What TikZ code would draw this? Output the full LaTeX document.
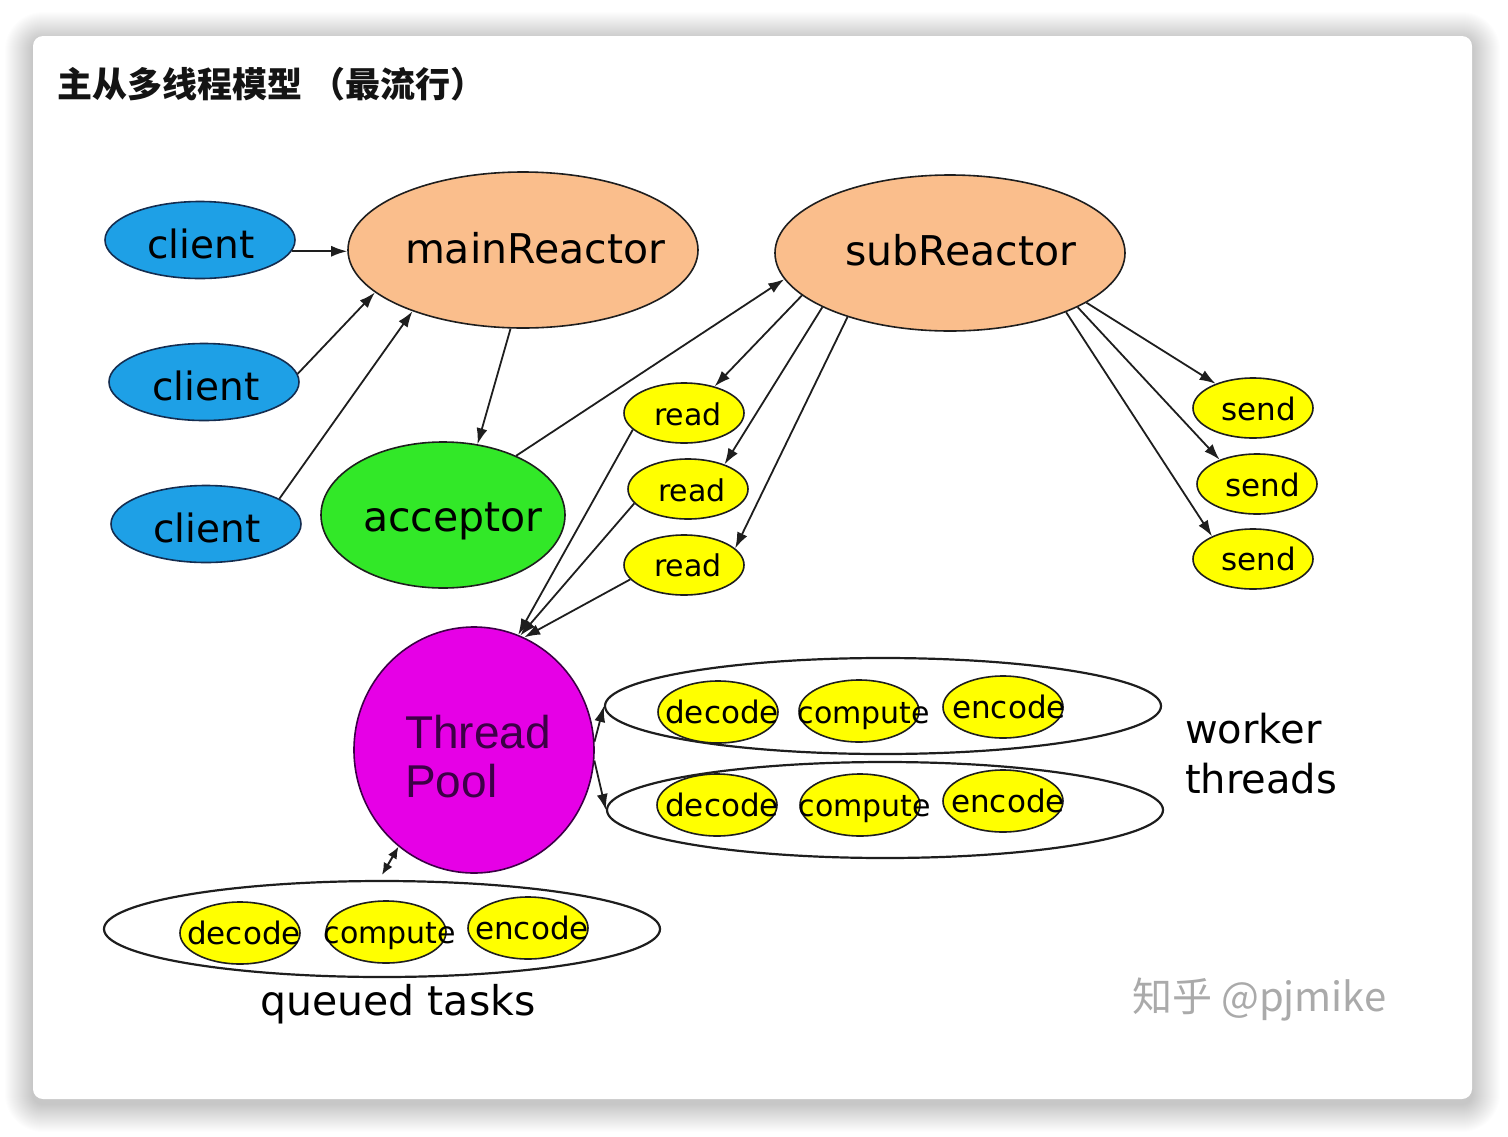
\documentclass[tikz,border=0pt]{standalone}
\usepackage{fontspec}
\setmainfont{DejaVu Sans}
\newfontfamily\cjk{Noto Sans CJK SC}
\newfontfamily\arialf{Liberation Sans}
\usetikzlibrary{shapes.geometric,arrows.meta}
\definecolor{cblue}{RGB}{30,160,230}
\definecolor{cblueD}{RGB}{20,45,80}
\definecolor{cpeach}{RGB}{250,190,140}
\definecolor{cgreen}{RGB}{50,232,40}
\definecolor{cyel}{RGB}{255,255,0}
\definecolor{cmag}{RGB}{230,0,230}
\definecolor{ctp}{RGB}{60,0,70}
\definecolor{cline}{RGB}{30,30,30}
\definecolor{cwm}{RGB}{170,170,170}
\newcommand\fsz[1]{\fontsize{#1}{#1}\selectfont}
\tikzset{
  nodebase/.style={ellipse, draw=cline, line width=1.6pt, inner sep=0pt},
  clientn/.style={nodebase, fill=cblue, draw=cblueD, minimum width=190pt, minimum height=77pt},
  reactor/.style={nodebase, fill=cpeach, minimum width=350pt, minimum height=156pt},
  smally/.style={nodebase, fill=cyel, minimum width=120pt, minimum height=60pt},
  tasky/.style={nodebase, fill=cyel, minimum width=120pt, minimum height=62pt},
  grp/.style={ellipse, draw=cline, line width=2.2pt, inner sep=0pt, minimum width=556pt, minimum height=96pt},
  arr/.style={draw=cline, line width=1.8pt, -{Latex[length=16pt,width=11pt]}},
  lbl/.style={inner sep=0pt, anchor=base, text=black},
}
\begin{document}
\begin{tikzpicture}[x=1pt,y=-1pt]
\useasboundingbox (0,0) rectangle (1508,1136);
\fill[white] (0,0) rectangle (1508,1136);
% shadow
\foreach \i in {1,...,28}{
  \fill[black, opacity=0.008, rounded corners=10pt+\i pt] (33-\i,40-\i) rectangle (1472+\i,1104+\i);
}
\fill[white, rounded corners=10pt] (33,36) rectangle (1472,1099);

% title
\node[anchor=base west, inner sep=0pt, font=\cjk\bfseries\fsz{35}, text=black!92] (title) at (57,97) {主从多线程模型 （最流行）};

% groups
\node[grp] (w1) at (883,706) {};
\node[grp] (w2) at (885,810) {};
\node[grp] (q) at (382,929) {};

% nodes
\node[clientn] (c1) at (200,240) {};
\node[clientn] (c2) at (204,382) {};
\node[clientn] (c3) at (206,524) {};
\node[reactor] (main) at (523,250) {};
\node[reactor] (sub) at (950,253) {};
\node[nodebase, fill=cgreen, minimum width=244pt, minimum height=146pt] (acc) at (443,515) {};
\node[smally] (r1) at (684,413) {};
\node[smally] (r2) at (688,489) {};
\node[smally] (r3) at (684,565) {};
\node[smally] (s1) at (1253,408) {};
\node[smally] (s2) at (1257,484) {};
\node[smally] (s3) at (1253,559) {};
\node[nodebase, fill=cmag, draw=ctp, minimum width=240pt, minimum height=246pt] (tp) at (474,750) {};

\node[tasky] (w1d) at (718,712) {};
\node[tasky] (w1c) at (859,711) {};
\node[tasky] (w1e) at (1003,707) {};
\node[tasky] (w2d) at (717,805) {};
\node[tasky] (w2c) at (860,805) {};
\node[tasky] (w2e) at (1003,801) {};
\node[tasky] (qd) at (240,933) {};
\node[tasky] (qc) at (386,932) {};
\node[tasky] (qe) at (528,928) {};

% texts
\node[lbl, font=\fsz{39}] (tc1) at (201,258) {client};
\node[lbl, font=\fsz{39}] (tc2) at (206,400) {client};
\node[lbl, font=\fsz{39}] (tc3) at (207,542) {client};
\node[lbl, font=\fsz{41}] (tmain) at (535,263) {mainReactor};
\node[lbl, font=\fsz{41}] (tsub) at (961,265) {subReactor};
\node[lbl, font=\fsz{41}] (tacc) at (453,531) {acceptor};
\node[lbl, font=\fsz{30}] (tr1) at (688,425) {read};
\node[lbl, font=\fsz{30}] (tr2) at (692,501) {read};
\node[lbl, font=\fsz{30}] (tr3) at (688,576) {read};
\node[lbl, font=\fsz{31}] (ts1) at (1259,420) {send};
\node[lbl, font=\fsz{31}] (ts2) at (1263,496) {send};
\node[lbl, font=\fsz{31}] (ts3) at (1259,570) {send};
\node[lbl, anchor=base west, font=\arialf\fsz{46}, text=ctp] (ttp1) at (405,748) {Thread};
\node[lbl, anchor=base west, font=\arialf\fsz{46}, text=ctp] (ttp2) at (405,797) {Pool};

\node[lbl, font=\fsz{31}] (tw1d) at (722,723) {decode};
\node[lbl, font=\fsz{30}] (tw1c) at (864,723) {compute};
\node[lbl, font=\fsz{31}] (tw1e) at (1009,718) {encode};
\node[lbl, font=\fsz{31}] (tw2d) at (722,816) {decode};
\node[lbl, font=\fsz{30}] (tw2c) at (865,816) {compute};
\node[lbl, font=\fsz{31}] (tw2e) at (1008,812) {encode};
\node[lbl, font=\fsz{31}] (tqd) at (244,944) {decode};
\node[lbl, font=\fsz{30}] (tqc) at (390,943) {compute};
\node[lbl, font=\fsz{31}] (tqe) at (532,939) {encode};

\node[lbl, anchor=base west, font=\fsz{40}] (twk1) at (1185,743) {worker};
\node[lbl, anchor=base west, font=\fsz{40}] (twk2) at (1185,793) {threads};
\node[lbl, font=\fsz{41}] (tqt) at (398,1015) {queued tasks};
\node[lbl, anchor=base west, font=\cjk\fsz{40}, text=cwm] (wm) at (1132,1011) {知乎 @pjmike};

% edges
\draw[arr] (c1.-7) -- (c1.-7 -| main.west);
\draw[arr] (c2.5) -- (main.196);
\draw[arr] (c3.19) -- (main.209.5);
\draw[arr] (main.261) -- (acc.64);
\draw[arr] (acc.39) -- (sub.189);
\draw[arr] (sub.196) -- (r1.41);
\draw[arr] (sub.203) -- (r2.34);
\draw[arr] (sub.212) -- (r3.18);
\draw[arr] (r1.198) -- (tp.69);
\draw[arr] (r2.195) -- (tp.68);
\draw[arr] (r3.195) -- (tp.66);
\draw[arr] (sub.-20) -- (s1.147);
\draw[arr] (sub.-23) -- (s2.147);
\draw[arr] (sub.-27) -- (s3.151);
\draw[arr] (tp.4) -- (w1.west);
\draw[arr] (tp.-5) -- (w2.west);
\draw[draw=cline, line width=2pt, {Latex[length=12pt,width=10pt]}-{Latex[length=12pt,width=10pt]}] (tp.232) -- ([yshift=5pt]q.north);
\end{tikzpicture}
\end{document}
